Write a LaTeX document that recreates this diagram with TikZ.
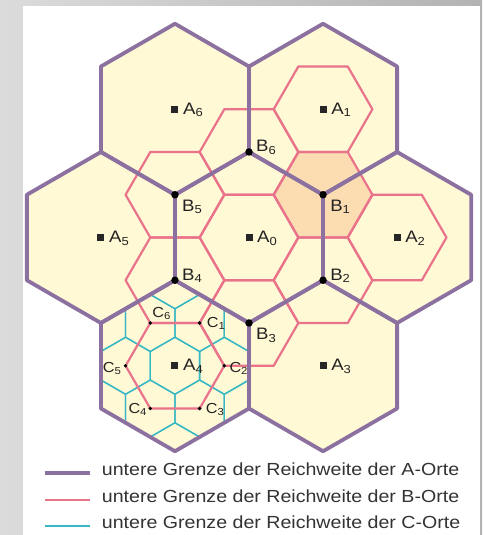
\documentclass[tikz,border=0pt]{standalone}
\usepackage{fontspec}
\setmainfont{Liberation Sans}[FakeStretch=1.12]
\usetikzlibrary{calc}

\definecolor{arange}{RGB}{139,112,160}
\definecolor{brange}{RGB}{234,115,140}
\definecolor{crange}{RGB}{56,184,196}
\definecolor{areafill}{RGB}{255,249,213}
\definecolor{bfill}{RGB}{252,221,178}
\definecolor{labeltext}{RGB}{35,35,35}

\begin{document}
\begin{tikzpicture}[x=1pt,y=1pt,
    aline/.style={draw=arange,line width=3.8pt,line join=round},
    bline/.style={draw=brange,line width=2.2pt,line join=round},
    cline/.style={draw=crange,line width=1.3pt},
    bdot/.style={circle,fill=black,inner sep=0pt,minimum size=7.5pt},
    cdot/.style={circle,fill=black,inner sep=0pt,minimum size=3.8pt},
    asq/.style={rectangle,fill=black!85,inner sep=0pt,minimum size=7pt},
    lab/.style={inner sep=0pt,text=labeltext,font=\fontsize{16.6}{19}\selectfont},
    clab/.style={inner sep=0pt,text=labeltext,font=\fontsize{14.5}{17}\selectfont},
    legtext/.style={inner sep=0pt,text=black!80,font=\fontsize{17.5}{20}\selectfont}]
        \def\hexA{85.5}
        \def\hexB{49.36}
        \def\hexC{28.5}
        \def\distA{148.1}

        % Hexagon macro:
        % #1 = style
        % #2 = centre
        % #3 = corner radius
        % #4 = angle of first corner
        \newcommand{\hexdraw}[4]{%
            \path[#1,shift={(#2)}] (#4:#3) -- (#4+60:#3) -- (#4+120:#3)
                -- (#4+180:#3) -- (#4+240:#3) -- (#4+300:#3) -- cycle;
        }

        % grey frame and white sheet
        \useasboundingbox (0,0) rectangle (482,535);
        \shade[left color=black!14,right color=black!30] (0,0) rectangle (482,535);
        \fill[white] (23,0) rectangle (480,529);

        % places
        \coordinate (A0) at (249,297.5);
        \foreach \i/\a in {1/60,2/0,3/-60,4/-120,5/180,6/120}{
            \coordinate (A\i) at ($(A0)+(\a:\distA)$);
        }
        \foreach \i/\a in {1/30,2/-30,3/-90,4/-150,5/150,6/90}{
            \coordinate (B\i) at ($(A0)+(\a:\hexA)$);
        }
        \foreach \i/\a in {1/60,2/0,3/-60,4/-120,5/180,6/120}{
            \coordinate (C\i) at ($(A4)+(\a:\hexB)$);
        }

        % areas
        \foreach \i in {0,...,6}{
            \hexdraw{fill=areafill}{A\i}{\hexA}{30}
        }
        \hexdraw{fill=bfill}{B1}{\hexB}{0}

        % C ranges, only inside A4
        \begin{scope}
            \hexdraw{clip}{A4}{\hexA}{30}
            \foreach \c in {A4,C1,C2,C3,C4,C5,C6}{
                \hexdraw{cline}{\c}{\hexC}{30}
            }
            \foreach \a in {30,90,...,330}{
                \coordinate (cv) at ($(A4)+(\a:\hexA)$);
                \hexdraw{cline}{cv}{\hexC}{30}
            }
        \end{scope}

        % B ranges
        \foreach \c in {A0,A1,A2,A4,B1,B2,B3,B4,B5,B6}{
            \hexdraw{bline}{\c}{\hexB}{0}
        }

        % A ranges
        \foreach \i in {0,...,6}{
            \hexdraw{aline}{A\i}{\hexA}{30}
        }

        % A labels
        \foreach \i in {0,...,6}{
            \node[asq] (sqA\i) at (A\i) {};
            \node[lab,anchor=base west] (labA\i) at ($(A\i)+(8,-5)$) {A\textsubscript{\i}};
        }

        % B labels
        \foreach \i in {1,...,6}{
            \node[bdot] (dotB\i) at (B\i) {};
        }
        \foreach \i in {2,4,6}{
            \node[lab,anchor=base west] (labB\i) at ($(B\i)+(7,0)$) {B\textsubscript{\i}};
        }
        \foreach \i in {1,3,5}{
            \node[lab,anchor=base west] (labB\i) at ($(B\i)+(7,-16.5)$) {B\textsubscript{\i}};
        }

        % C labels
        \foreach \i/\dx/\dy/\anc in {1/7/-4.7/base west,2/5/-6.7/base west,3/6/-4.7/base west,
                4/-3/-4.7/base east,5/-4/-6.7/base east,6/2/5.3/base west}{
            \node[cdot] (dotC\i) at (C\i) {};
            \node[clab,anchor=\anc] (labC\i) at ($(C\i)+(\dx,\dy)$) {C\textsubscript{\i}};
        }

        % legend
        \foreach \kind/\sty/\yy in {A/aline/61.7,B/bline/35,C/cline/9}{
            \coordinate (lg\kind s) at (45,\yy);
            \coordinate (lg\kind e) at (90,\yy);
            \draw[\sty] (lg\kind s) -- (lg\kind e);
            \node[legtext,anchor=mid west] (lg\kind txt) at (101.7,\yy)
                {untere Grenze der Reichweite der \kind-Orte};
        }
    \end{tikzpicture}
\end{document}
